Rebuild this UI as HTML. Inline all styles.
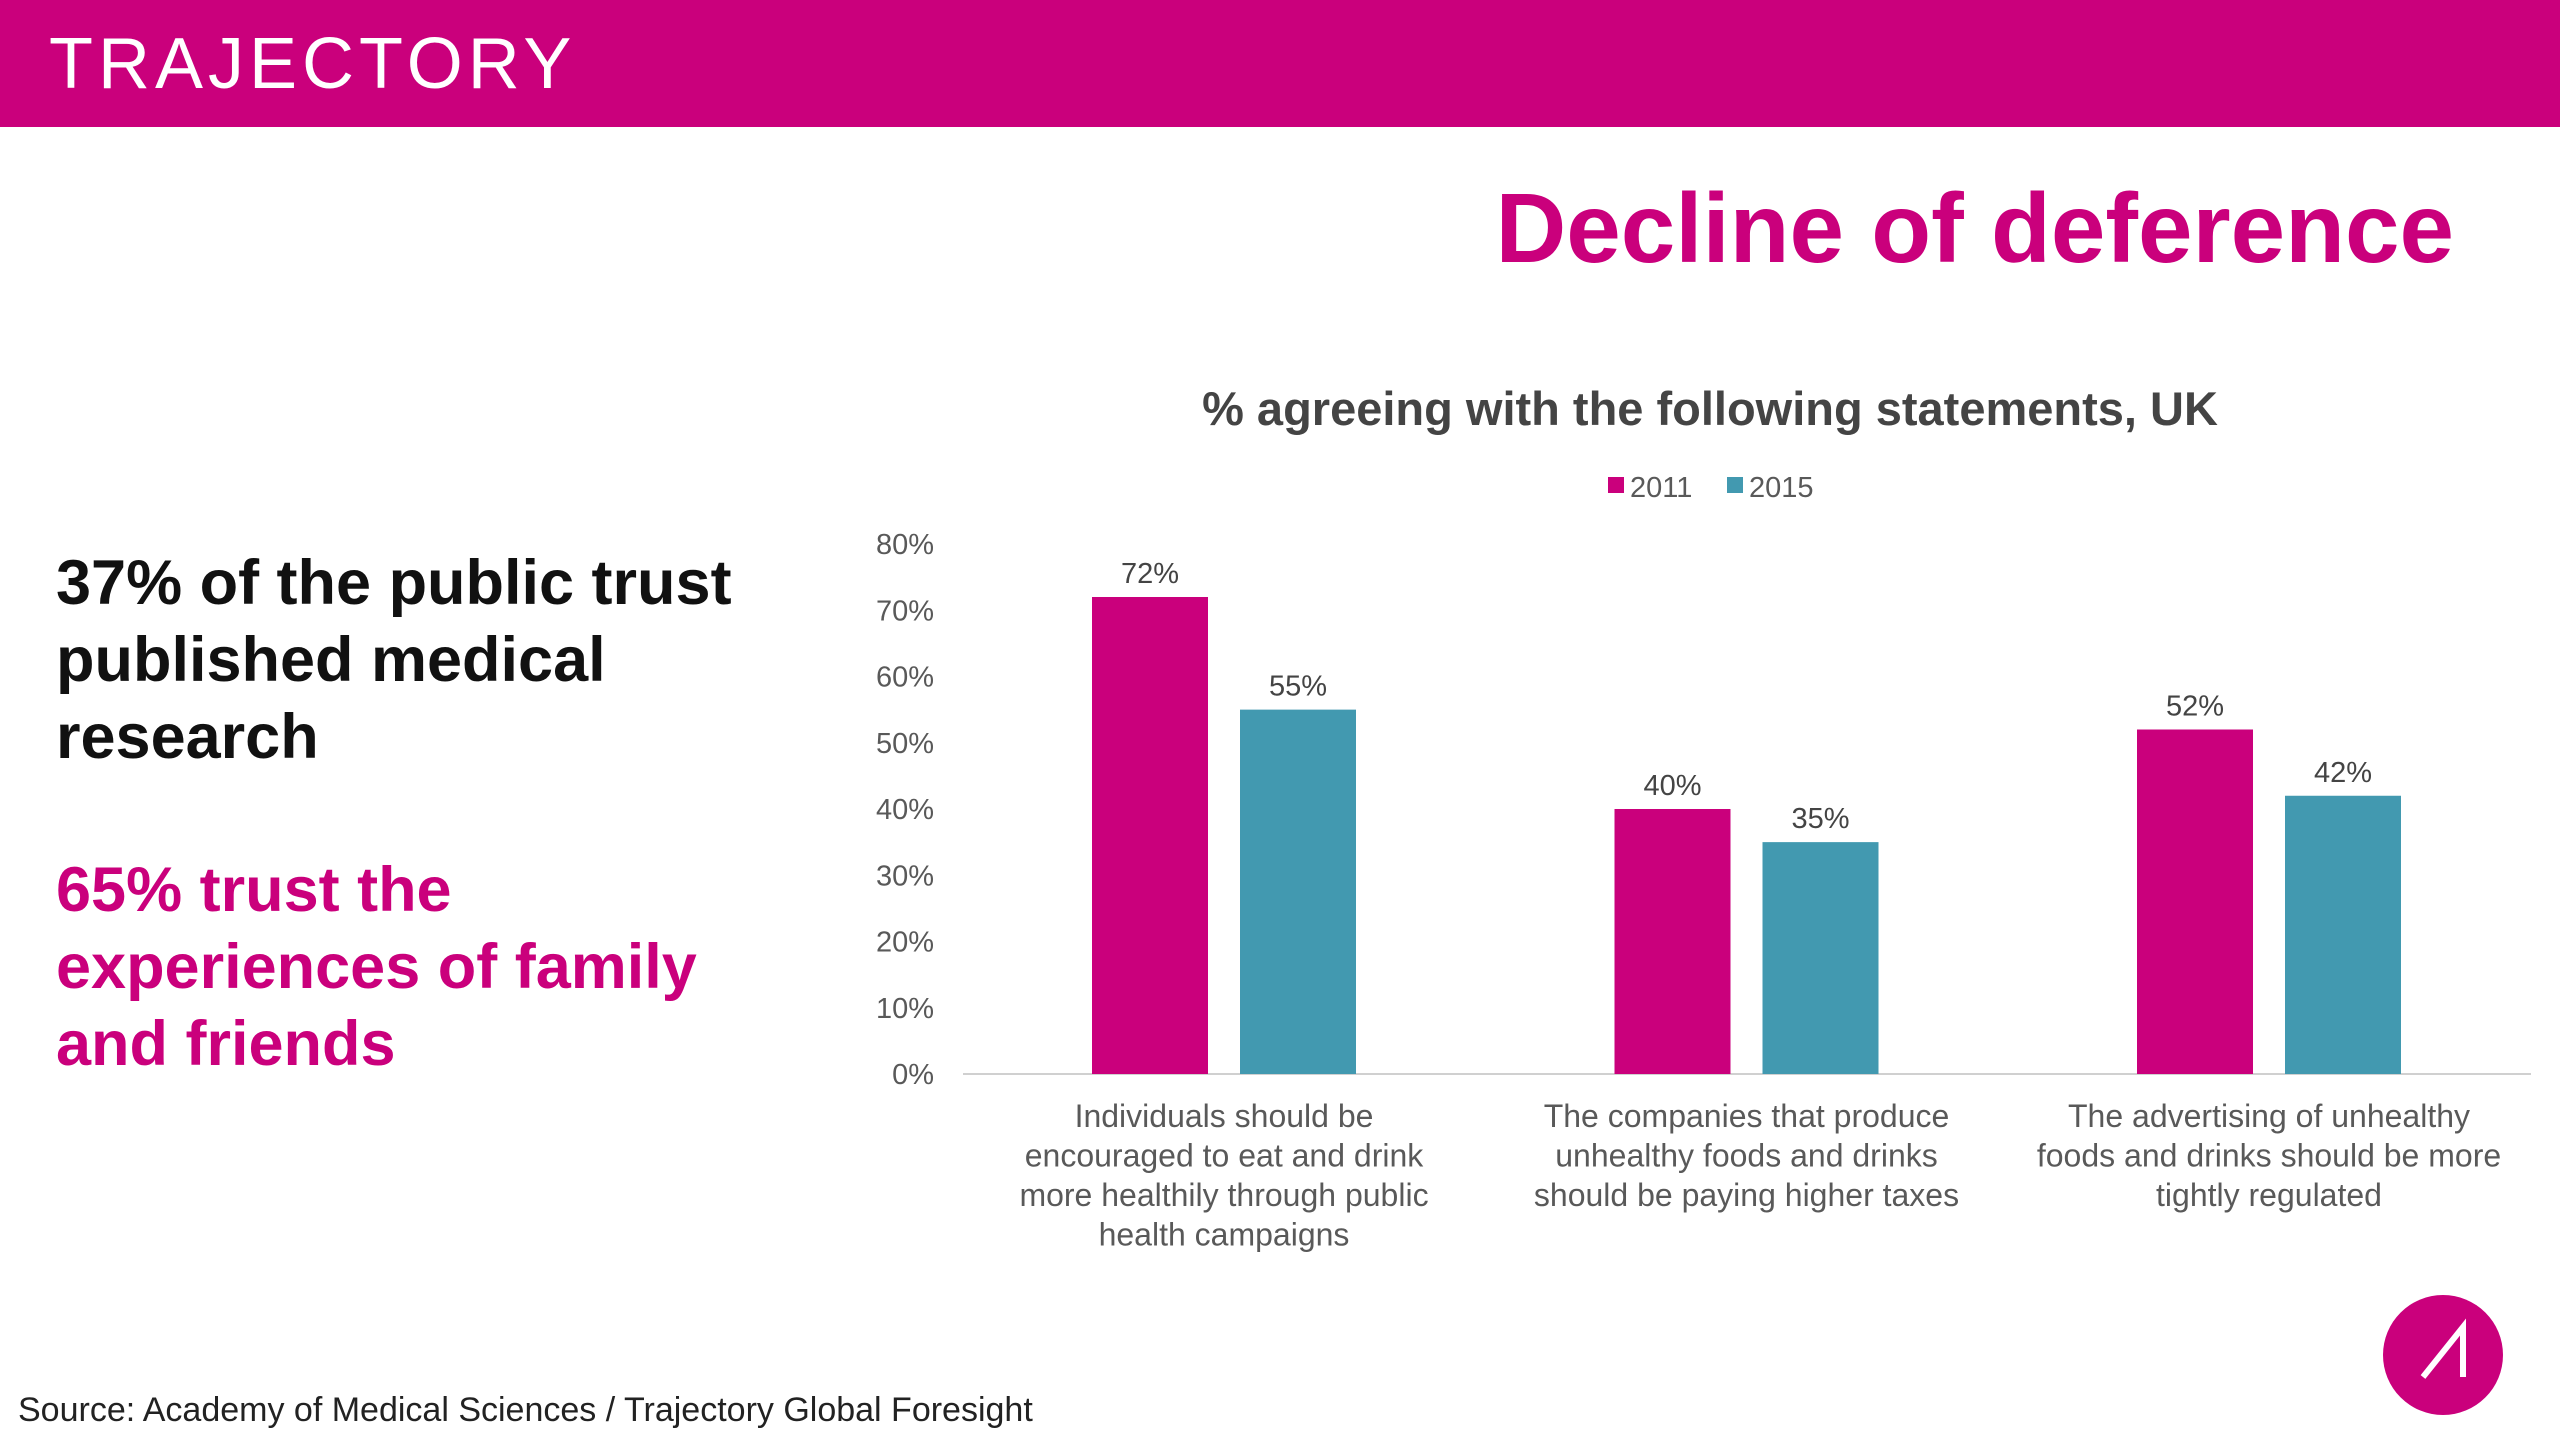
<!DOCTYPE html>
<html><head><meta charset="utf-8"><style>
body{margin:0;width:2560px;height:1440px;background:#fff;position:relative;overflow:hidden;font-family:"Liberation Sans",sans-serif}
.a{position:absolute}
</style></head><body>
<div class="a" style="left:0;top:0;width:2560px;height:127px;background:#CA007C"></div>
<div class="a" style="left:49px;top:28px;font-size:72px;color:#fff;letter-spacing:5px;font-weight:normal;line-height:72px">TRAJECTORY</div>
<div class="a" style="right:106px;top:178px;font-size:98px;font-weight:bold;color:#CA007C;line-height:100px">Decline of deference</div>
<div class="a" style="left:56px;top:545px;font-size:63px;font-weight:bold;color:#111;line-height:77px">37% of the public trust<br>published medical<br>research</div>
<div class="a" style="left:56px;top:852px;font-size:63px;font-weight:bold;color:#CA007C;line-height:77px">65% trust the<br>experiences of family<br>and friends</div>
<div class="a" style="left:18px;top:1391px;font-size:34px;color:#222">Source: Academy of Medical Sciences / Trajectory Global Foresight</div>
<div class="a" style="left:2383px;top:1295px;width:120px;height:120px;border-radius:50%;background:#CA007C"></div>
<svg class="a" style="left:2383px;top:1295px" width="120" height="120"><path d="M40 82 L80 32 L80 82" stroke="#fff" stroke-width="6" fill="none"/></svg>
<svg id="chart" class="a" style="left:0;top:0" width="2560" height="1440"></svg>
<script>
const categories=[["Individuals should be","encouraged to eat and drink","more healthily through public","health campaigns"],["The companies that produce","unhealthy foods and drinks","should be paying higher taxes"],["The advertising of unhealthy","foods and drinks should be more","tightly regulated"]];
const series2011=[72,40,52];
const series2015=[55,35,42];
const ticks=[0,10,20,30,40,50,60,70,80];
const seriesNames=["2011","2015"];
const colors=["#CA007C","#4299B0"];
const svg=document.getElementById('chart');const NS="http://www.w3.org/2000/svg";
function y(v){return 1074-v*(1074-544)/80;}
function cx(i){return 1224+i*522.5;}
function mk(t,a,txt){const e=document.createElementNS(NS,t);for(const k in a)e.setAttribute(k,a[k]);if(txt!=null)e.textContent=txt;svg.appendChild(e);return e;}
let e=mk('text',{x:1710,y:425,'text-anchor':'middle','font-size':47,'font-weight':'bold',fill:'#444'},'% agreeing with the following statements, UK');


ticks.forEach(t=>{const l=mk('text',{x:934,y:y(t)+10,'text-anchor':'end','font-size':29,fill:'#595959'},t+'%');

});
e=mk('line',{x1:963,x2:2531,y1:1074,y2:1074,stroke:'#d0d0d0','stroke-width':2});


[series2011,series2015].forEach((s,si)=>{s.forEach((v,i)=>{const x=cx(i)+(si?74:-74);
const r=mk('rect',{x:x-58,y:y(v),width:116,height:1074-y(v),fill:colors[si]});


const t=mk('text',{x:x,y:y(v)-14,'text-anchor':'middle','font-size':29,fill:'#444'},v+'%');

});});
categories.forEach((c,i)=>{c.forEach((ln,j)=>{const t=mk('text',{x:cx(i),y:1127+j*39.5,'text-anchor':'middle','font-size':32,fill:'#595959'},ln);

});});
[[1608,'2011'],[1727,'2015']].forEach((p,i)=>{const r=mk('rect',{x:p[0],y:477,width:16,height:16,fill:colors[i]});


const t=mk('text',{x:p[0]+22,y:497,'font-size':29,fill:'#595959'},p[1]);

});
</script>
</body></html>
